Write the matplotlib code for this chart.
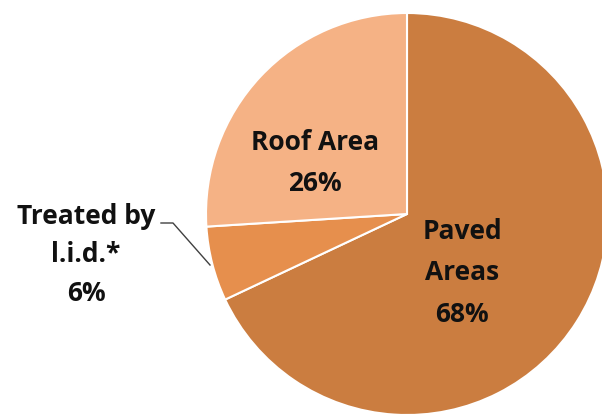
import matplotlib.pyplot as plt

# slice data (clockwise from 12 o'clock)
labels = ['Paved\nAreas', 'Treated by\nl.i.d.*', 'Roof Area']
shares = [68, 6, 26]
colors = ['#CB7D40', '#E68F4D', '#F5B285']

W, H = 602, 419

fig = plt.figure(figsize=(W / 100, H / 100), dpi=100)
ax = fig.add_axes([0, 0, 1, 1])

# pie placed in pixel coordinates (y up)
cx, cy, r = 407, H - 214, 201
ax.pie(shares, colors=colors, startangle=90, counterclock=False,
       center=(cx, cy), radius=r, frame=True,
       wedgeprops=dict(edgecolor='white', linewidth=1.5))
ax.set_xlim(0, W)
ax.set_ylim(0, H)
ax.set_aspect('equal')
ax.axis('off')

font = dict(family='Open Sans', weight='bold', size=19, color='#111111',
            ha='center', va='center')

# label positions in pixels (from top-left)
label_pos = [(462, 273), (86, 255), (315, 163)]
spacing = [1.7, 1.55, 1.7]
for lab, val, (x, y), ls in zip(labels, shares, label_pos, spacing):
    ax.text(x, H - y, f'{lab}\n{val}%', linespacing=ls, **font)

# leader line for the small slice
ax.plot([161, 173, 210], [H - 223, H - 223, H - 265], color='#404040', lw=1)

fig.savefig('out.png', dpi=100)
